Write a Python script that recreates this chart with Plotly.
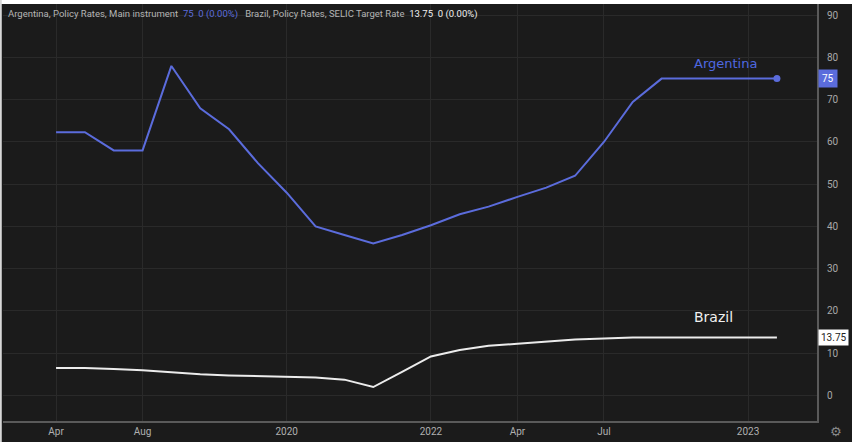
import plotly.graph_objects as go

# pontos igualmente espaçados (índice da barra), rótulos do eixo x irregulares
idx = list(range(26))
tick_pos = [0, 3, 8, 13, 16, 19, 24]
tick_text = ['Apr', 'Aug', '2020', '2022', 'Apr', 'Jul', '2023']

argentina = [62.3, 62.3, 58, 58, 78, 68, 63, 55, 48, 40, 38, 36, 38, 40.3, 42.9,
             44.7, 47, 49.2, 52, 60, 69.5, 75, 75, 75, 75, 75]
brazil = [6.5, 6.5, 6.25, 6.0, 5.5, 5.0, 4.75, 4.6, 4.5, 4.25, 3.75, 2.0, 5.6, 9.25,
          10.75, 11.75, 12.25, 12.75, 13.25, 13.5, 13.75, 13.75, 13.75, 13.75, 13.75, 13.75]

BG = '#1b1b1b'
GRID = '#2a2a2a'
AXIS = '#5a5a5a'
BLUE = '#5b6cdc'
WHITE = '#ececec'

fig = go.Figure()
fig.add_trace(go.Scatter(x=idx, y=argentina, mode='lines',
                         line=dict(color=BLUE, width=2), name='Argentina'))
fig.add_trace(go.Scatter(x=[idx[-1]], y=[argentina[-1]], mode='markers',
                         marker=dict(color=BLUE, size=7), showlegend=False))
fig.add_trace(go.Scatter(x=idx, y=brazil, mode='lines',
                         line=dict(color=WHITE, width=2), name='Brazil'))

fig.update_layout(
    width=852, height=442,
    margin=dict(l=3, r=35, t=4, b=21),
    paper_bgcolor=BG, plot_bgcolor=BG,
    showlegend=False,
    font=dict(family='Roboto, DejaVu Sans, sans-serif', color='#a8a8a8', size=10),
)
fig.update_xaxes(range=[-1.84, 26.39], tickvals=tick_pos, ticktext=tick_text,
                 showgrid=True, gridcolor=GRID, gridwidth=1, zeroline=False,
                 showline=True, linecolor=AXIS, linewidth=2, ticks='',
                 tickfont=dict(size=10, color='#b0b0b0'))
fig.update_yaxes(range=[-6.04, 92.66], side='right', dtick=10, tick0=0,
                 showgrid=True, gridcolor=GRID, gridwidth=1, zeroline=False,
                 showline=True, linecolor=AXIS, linewidth=2, ticks='',
                 ticklabelstandoff=6,
                 tickfont=dict(size=10, color='#a8a8a8'))

# légende en haut
fig.add_annotation(
    xref='paper', yref='paper', x=0.004, y=0.995, xanchor='left', yanchor='top',
    showarrow=False, font=dict(size=9.5, color='#b4b4b4'),
    text=('Argentina, Policy Rates, Main instrument  '
          '<span style="color:#5b6cdc">75  0 (0.00%)</span>   '
          'Brazil, Policy Rates, SELIC Target Rate  '
          '<span style="color:#f0f0f0">13.75  0 (0.00%)</span>'))

# étiquettes des séries
fig.add_annotation(x=23.23, y=78.6, text='Argentina', showarrow=False,
                   font=dict(family='DejaVu Sans', size=13, color='#4f68e0'))
fig.add_annotation(x=22.8, y=18.65, text='Brazil', showarrow=False,
                   font=dict(family='DejaVu Sans', size=14, color='#f0f0f0'))

# valeurs courantes sur l'axe de droite
fig.add_annotation(xref='paper', x=1.001, xanchor='left', y=argentina[-1],
                   text='75', showarrow=False, bgcolor=BLUE, borderpad=3,
                   font=dict(size=10, color='#ffffff'))
fig.add_annotation(xref='paper', x=1.001, xanchor='left', y=brazil[-1],
                   text='13.75', showarrow=False, bgcolor='#ffffff', borderpad=2,
                   font=dict(size=10, color='#222222'))

# icône en bas à droite
fig.add_annotation(xref='paper', yref='paper', x=1.023, y=-0.026, yanchor='middle',
                   xanchor='center', text='⚙', showarrow=False,
                   font=dict(size=13, color='#8a8a8a'))

# bordure blanche de la capture
fig.add_shape(type='rect', xref='paper', yref='paper', x0=-0.01, x1=1.1,
              y0=1.0, y1=1.02, fillcolor='#ffffff', line_width=0, layer='above')
fig.add_shape(type='rect', xref='paper', yref='paper', x0=-0.01, x1=-0.0015,
              y0=-0.1, y1=1.02, fillcolor='#d8d8d8', line_width=0, layer='above')

fig.write_html('out.html', config={'displayModeBar': False},
               post_script="document.body.style.margin='0';")
